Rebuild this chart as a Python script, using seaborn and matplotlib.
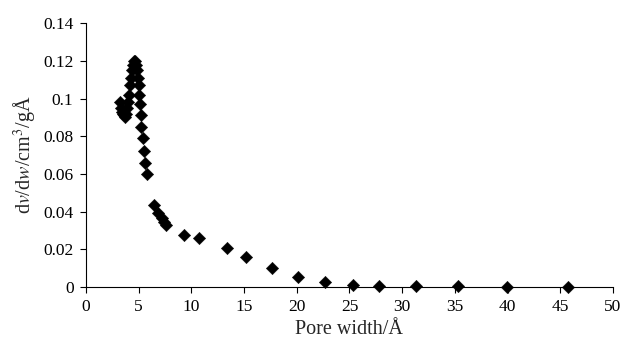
import matplotlib
matplotlib.use("Agg")
import matplotlib.pyplot as plt
import seaborn as sns
import pandas as pd
from matplotlib.ticker import FuncFormatter

pore_width = [3.2, 3.3, 3.4, 3.5, 3.6, 3.7, 3.8, 3.9, 4.0, 4.05, 4.15, 4.25, 4.35, 4.45,
              4.55, 4.65, 4.75, 4.85, 4.95, 5.0, 5.05, 5.1, 5.2, 5.25, 5.37, 5.5, 5.6, 5.75,
              6.45, 6.86, 7.17, 7.4, 7.6, 9.33, 10.72, 13.4, 15.2, 17.6, 20.1, 22.7,
              25.3, 27.8, 31.3, 35.3, 39.95, 45.7]
dv_dw = [0.098, 0.095, 0.093, 0.092, 0.091, 0.090, 0.092, 0.095, 0.098, 0.102, 0.107, 0.111,
         0.115, 0.118, 0.120, 0.120, 0.118, 0.115, 0.111, 0.107, 0.102, 0.097, 0.091, 0.085,
         0.079, 0.072, 0.066, 0.060,
         0.0435, 0.039, 0.0364, 0.0346, 0.033, 0.0276, 0.0258, 0.0205, 0.0159, 0.0099,
         0.0055, 0.0025, 0.0011, 0.0007, 0.0004, 0.0003, 0.0002, 0.0002]
x_ticks = [0, 5, 10, 15, 20, 25, 30, 35, 40, 45, 50]
y_ticks = [0, 0.02, 0.04, 0.06, 0.08, 0.1, 0.12, 0.14]

sns.set_style("ticks")
plt.rcParams['font.family'] = ['Liberation Serif', 'DejaVu Serif']
plt.rcParams['mathtext.fontset'] = 'stix'

df = pd.DataFrame({"w": pore_width, "v": dv_dw})

fig = plt.figure(figsize=(6.25, 3.4), dpi=100)
ax = fig.add_axes([0.1376, 0.156, 0.8432, 0.776])
sns.scatterplot(data=df, x="w", y="v", marker="D", s=40, color="black",
                edgecolor="black", linewidth=0.3, ax=ax, clip_on=False, zorder=3)

ax.set_xlim(0, 50)
ax.set_ylim(0, 0.14)
ax.set_xticks(x_ticks)
ax.set_yticks(y_ticks)
ax.yaxis.set_major_formatter(FuncFormatter(lambda v, p: f"{v:g}"))
ax.tick_params(axis='both', labelsize=12.5, direction='out', length=4, width=0.8,
               colors='black', pad=5)
for s in ['top', 'right']:
    ax.spines[s].set_visible(False)
for s in ['left', 'bottom']:
    ax.spines[s].set_color('black')
    ax.spines[s].set_linewidth(0.8)

ax.set_xlabel("Pore width/Å", fontsize=14.5, labelpad=3)
ax.set_ylabel(r"d$\mathit{v}$/d$\mathit{w}$/cm$^3$/gÅ", fontsize=14.5, labelpad=4)

fig.savefig("out.png", dpi=100)
